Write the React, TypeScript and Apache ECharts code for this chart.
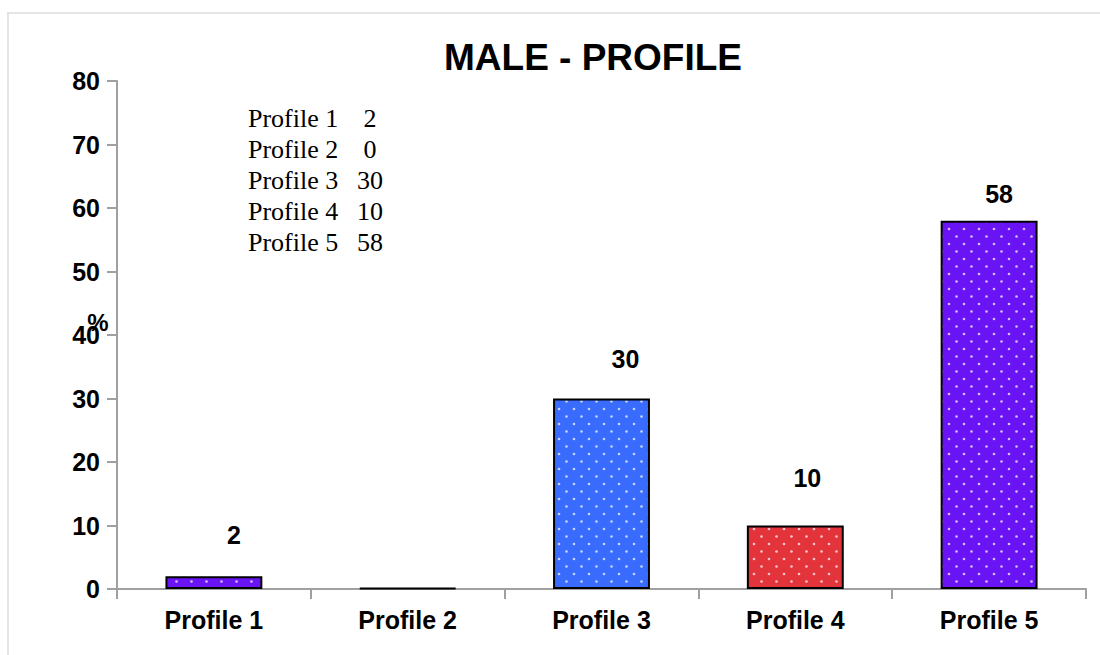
import React, { useEffect, useRef } from "react";
import * as echarts from "echarts";

const categories = ["Profile 1", "Profile 2", "Profile 3", "Profile 4", "Profile 5"];
const values = [2, 0, 30, 10, 58];
const barColors = ["#6a14f5", "#6a14f5", "#3a6bff", "#e3343c", "#6a14f5"];
const yTicks = { min: 0, max: 80, interval: 10 };
const titleText = "MALE - PROFILE";
const yName = "%";
// label offsets (style only)
const labelOffsets = [[20, -24], [0, 0], [24, -22], [12, -30], [10, -9]];

const SANS = "'Liberation Sans', Arial, Helvetica, sans-serif";
const SERIF = "'Liberation Serif', 'Times New Roman', serif";

function makePattern(color: string) {
  const c = document.createElement("canvas");
  c.width = 15;
  c.height = 15;
  const ctx = c.getContext("2d")!;
  ctx.fillStyle = color;
  ctx.fillRect(0, 0, 15, 15);
  ctx.fillStyle = "rgba(255,255,255,0.72)";
  ctx.beginPath();
  ctx.arc(4, 4, 1.3, 0, Math.PI * 2);
  ctx.fill();
  ctx.beginPath();
  ctx.arc(11.5, 11.5, 1.3, 0, Math.PI * 2);
  ctx.fill();
  return { image: c, repeat: "repeat" };
}

export default function App() {
  const ref = useRef<HTMLDivElement>(null);
  useEffect(() => {
    const chart = echarts.init(ref.current!, null, { renderer: "svg" });
    const tableTexts: any[] = [];
    categories.forEach((c, i) => {
      tableTexts.push({
        type: "text",
        x: 248,
        y: 118 + 31 * i,
        style: { text: c, font: `26px ${SERIF}`, fill: "#000", verticalAlign: "middle" },
      });
      tableTexts.push({
        type: "text",
        x: 370,
        y: 118 + 31 * i,
        style: { text: String(values[i]), font: `26px ${SERIF}`, fill: "#000", align: "center", verticalAlign: "middle" },
      });
    });
    const option: any = {
      animation: false,
      backgroundColor: "#fff",
      title: {
        text: titleText,
        left: 588,
        top: 34,
        textAlign: "center",
        textStyle: { fontFamily: SANS, fontWeight: "bold", fontSize: 37, color: "#000" },
      },
      grid: { left: 117, right: 14, top: 81, bottom: 66, containLabel: false },
      xAxis: {
        type: "category",
        data: categories,
        axisLine: { lineStyle: { color: "#a0a0a0", width: 2 } },
        axisTick: { show: true, alignWithLabel: false, length: 10, lineStyle: { color: "#a0a0a0", width: 2 } },
        axisLabel: { fontFamily: SANS, fontWeight: "bold", fontSize: 25, color: "#000", margin: 18 },
      },
      yAxis: {
        type: "value",
        min: yTicks.min,
        max: yTicks.max,
        interval: yTicks.interval,
        splitLine: { show: false },
        axisLine: { show: true, lineStyle: { color: "#a0a0a0", width: 2 } },
        axisTick: { show: true, length: 10, lineStyle: { color: "#a0a0a0", width: 2 } },
        axisLabel: { fontFamily: SANS, fontWeight: "bold", fontSize: 25, color: "#000", margin: 17 },
      },
      series: [
        {
          type: "bar",
          barWidth: "50%",
          barMinHeight: 1,
          data: values.map((v, i) => ({
            value: v,
            itemStyle: { color: makePattern(barColors[i]), borderColor: "#000", borderWidth: 2 },
            label: {
              show: v !== 0,
              position: "top",
              distance: 5,
              offset: labelOffsets[i],
              fontFamily: SANS,
              fontWeight: "bold",
              fontSize: 25,
              color: "#000",
            },
          })),
        },
      ],
      graphic: [
        { type: "line", shape: { x1: 7, y1: 13, x2: 1100, y2: 13 }, style: { stroke: "#dcdcdc", lineWidth: 1.5 } },
        { type: "line", shape: { x1: 8, y1: 13, x2: 8, y2: 655 }, style: { stroke: "#dcdcdc", lineWidth: 1.5 } },
        {
          type: "text",
          x: 98,
          y: 322,
          style: { text: yName, font: `bold 24px ${SANS}`, fill: "#000", align: "center", verticalAlign: "middle" },
        },
        ...tableTexts,
      ],
    };
    chart.setOption(option);
    return () => chart.dispose();
  }, []);
  return (
    <div
      ref={ref}
      style={{ position: "fixed", left: 0, top: 0, width: 1100, height: 655, background: "#fff" }}
    />
  );
}
